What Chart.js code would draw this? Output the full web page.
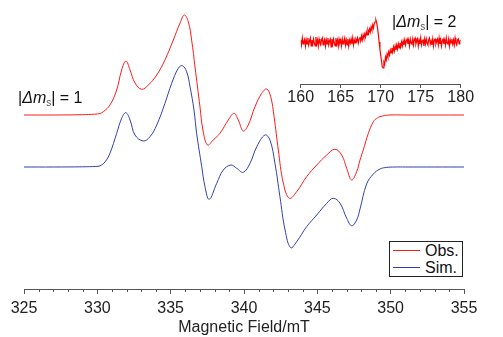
<!DOCTYPE html>
<html>
<head>
<meta charset="utf-8">
<script src="https://cdn.jsdelivr.net/npm/chart.js@4/dist/chart.umd.min.js"></script>
<style>
    body { margin: 0; background: #fff; }
    #contenedor { position: relative; width: 503px; height: 337px; font-family: "Liberation Sans", Arial, sans-serif; }
    canvas { position: absolute; top: 0; }
    #principal { left: 0; }
    #recuadro { left: 280px; }
    .etiqueta { position: absolute; font-size: 16px; line-height: 16px; color: #111; white-space: nowrap; }
    .etiqueta i { font-style: italic; }
    .etiqueta sub { font-size: 10px; line-height: 0; vertical-align: -3px; color: #555; }
    #leyenda { position: absolute; left: 389px; top: 241px; width: 72px; height: 34px; border: 1px solid #222; background: #fff; font-size: 16px; color: #111; }
    #leyenda div { position: absolute; left: 0; height: 17px; line-height: 17px; }
    #leyenda span.linea { position: absolute; left: 3px; top: 8px; width: 27px; height: 1px; }
    #leyenda span.texto { position: absolute; left: 35px; top: 0; }
</style>
</head>
<body>
<div id="contenedor">
    <canvas id="principal" width="503" height="337"></canvas>
    <canvas id="recuadro" width="223" height="120"></canvas>
    <div class="etiqueta" style="left:18px; top:90px;">|<i>Δm</i><sub>s</sub>| = 1</div>
    <div class="etiqueta" style="left:392px; top:14px;">|<i>Δm</i><sub>s</sub>| = 2</div>
    <div id="leyenda">
        <div style="top:0;"><span class="linea" style="background:#ff1a1a;"></span><span class="texto">Obs.</span></div>
        <div style="top:17px;"><span class="linea" style="background:#3040b0;"></span><span class="texto">Sim.</span></div>
    </div>
</div>
<script>
// Espectro |Δms| = 1 (campo en mT, intensidad relativa a la línea base)
const campoObs = [325, 327, 329, 329.8, 330.18, 330.41, 330.86, 331.32, 331.66, 331.95,
    332.23, 332.57, 333.02, 333.48, 334.05, 334.61, 335.18, 335.64, 335.93, 336.2,
    336.43, 336.66, 337.0, 337.2, 337.51, 337.9, 338.36, 338.93, 339.32, 339.61,
    339.95, 340.29, 340.75, 341.21, 341.55, 341.82, 342.05, 342.34, 342.68, 343.09,
    343.59, 344.27, 344.96, 345.64, 346.2, 346.66, 347.0, 347.34, 347.68, 347.91,
    348.13, 348.48, 348.82, 349.1, 349.45, 349.95, 351, 353, 355];
const obs = [0, 0, 0.3, 0.8, 1.5, 3.3, 10, 25, 45, 54,
    45, 32, 25.7, 30, 40, 55, 75, 92, 100, 93.3,
    75, 48, 8, -15, -30, -25, -18.3, -5, 1.7, -5,
    -16, -10, 8.3, 21.7, 26, 18.3, -1.7, -35, -68, -83.3,
    -76.7, -61.7, -50, -40, -34.3, -40, -53.3, -65, -56.7, -45,
    -35, -18.3, -6.7, -2.8, -1, 0, 0, 0, 0];

const campoSim = [325, 327, 329, 329.9, 330.18, 330.52, 330.86, 331.32, 331.66, 331.95,
    332.23, 332.57, 333.13, 333.59, 334.05, 334.61, 335.07, 335.52, 335.79, 336.09,
    336.32, 336.59, 336.77, 337.12, 337.34, 337.63, 338.14, 338.59, 339.11, 339.5,
    339.95, 340.41, 340.87, 341.43, 341.77, 342.11, 342.45, 342.8, 343.18, 343.59,
    344.27, 344.96, 345.64, 346.09, 346.55, 347.0, 347.34, 347.68, 347.91, 348.36,
    348.82, 349.27, 349.73, 350.3, 351, 353, 355];
const sim = [0, 0, 0.2, 0.6, 1.2, 5, 13.7, 33.7, 48.7, 54.3,
    47, 32, 26, 30.3, 42, 63.7, 83.7, 98.7, 101.3, 95.3,
    80.3, 57, 33.7, 0.3, -19.7, -32.3, -16.3, -3, 2, -1.3,
    -5.3, 3.7, 20.3, 32, 27, 3.7, -29.7, -63, -80.7, -74.7,
    -59.7, -48, -36.3, -31.3, -36.3, -51.3, -58.7, -53, -42, -17,
    -7, -2, -0.4, 0, 0, 0, 0];

// Espectro |Δms| = 2, de 160 a 180 mT cada 0.1 mT
const insetInicio = 160;
const insetPaso = 0.1;
const obsInset = [
    2, -3, 4, -2, 1, 3, -4, 2, -2, 4,
    -3, 1, 4, -4, 2, -2, 3, -1, -4, 5,
    -2, 2, -4, 3, -1, -3, 2, 4, -3, 1,
    3, -4, 2, -2, 4, -3, 1, 3, -5, 3,
    -2, 3, -1, -4, 4, -2, 2, -4, 3, -1,
    2, -4, 3, -2, 1, 4, -3, 2, -3, 3,
    -4, 2, -1, 3, -2, 4, -3, 2, -1, 3,
    1, 4, -1, 3, 5, 1, 6, 2, 7, 4,
    8, 5, 10, 7, 12, 9, 13, 10, 15, 12,
    17, 14, 19, 20, 22, 19, 14, 8, 0, -7,
    -13, -19, -25, -26, -20, -22, -15, -18, -12, -15,
    -10, -13, -8, -11, -6, -10, -5, -9, -4, -8,
    -3, -7, -2, -6, -1, -5, 0, -4, 1, -3,
    2, -3, 1, 3, -2, 2, -4, 3, -1, -2,
    3, -3, 2, 4, -2, 1, 3, -4, 2, -2,
    4, -3, 1, 2, -4, 3, -2, 3, -1, -3,
    2, 4, -2, 1, -3, 3, -4, 2, 3, -2,
    1, 3, -3, 4, -2, 2, -4, 1, 3, -2,
    2, -3, 4, -1, -2, 3, -4, 2, -1, 3,
    -2, 2, -3, 4, -1, -3, 2, 3, -2, 1,
    2];

const ticksPrincipal = [325, 330, 335, 340, 345, 350, 355];
const ticksInset = [160, 165, 170, 175, 180];

// desplazamiento vertical de cada traza
const baseObs = 174;
const baseSim = 122;

function puntos(xs, ys, base) {
    let res = [];
    for (let i = 0; i < xs.length; i++) {
        res.push({ x: xs[i], y: ys[i] + base });
    }
    return res;
}

const colorEje = '#555555';
const fuente = { family: "'Liberation Sans', Arial, sans-serif", size: 16 };

// ticks menores cada 1 mT
const ticksMenores = {
    id: 'ticksMenores',
    afterDraw(chart) {
        const escala = chart.scales.x;
        const ctx = chart.ctx;
        const y = chart.chartArea.bottom;
        ctx.save();
        ctx.strokeStyle = colorEje;
        ctx.lineWidth = 1;
        for (let v = escala.min; v <= escala.max; v++) {
            if (v % 5 === 0) continue;
            const x = Math.round(escala.getPixelForValue(v)) + 0.5;
            ctx.beginPath();
            ctx.moveTo(x, y);
            ctx.lineTo(x, y + 3);
            ctx.stroke();
        }
        ctx.restore();
    }
};

new Chart(document.getElementById('principal'), {
    type: 'line',
    data: {
        datasets: [{
            label: 'Obs.',
            data: puntos(campoObs, obs, baseObs),
            borderColor: '#ff1a1a',
            borderWidth: 1,
            pointRadius: 0,
            tension: 0.4
        }, {
            label: 'Sim.',
            data: puntos(campoSim, sim, baseSim),
            borderColor: '#3040b0',
            borderWidth: 1,
            pointRadius: 0,
            tension: 0.4
        }]
    },
    options: {
        responsive: false,
        animation: false,
        layout: { padding: { left: 24, right: 39, top: 0, bottom: 0 } },
        plugins: { legend: { display: false }, tooltip: { enabled: false } },
        scales: {
            x: {
                type: 'linear',
                min: 325,
                max: 355,
                afterBuildTicks(escala) {
                    escala.ticks = ticksPrincipal.map(v => ({ value: v }));
                },
                afterFit(escala) { escala.height = 48; },
                grid: { drawOnChartArea: false, color: colorEje, tickLength: 5 },
                border: { color: colorEje },
                ticks: { color: '#222', font: fuente, padding: 5, maxRotation: 0 },
                title: { display: true, text: 'Magnetic Field/mT', color: '#222', font: fuente, padding: { top: 0, bottom: 0 } }
            },
            y: { display: false, min: 0, max: 289 }
        }
    },
    plugins: [ticksMenores]
});

let datosInset = [];
for (let i = 0; i < obsInset.length; i++) {
    datosInset.push({ x: insetInicio + i * insetPaso, y: obsInset[i] });
}

new Chart(document.getElementById('recuadro'), {
    type: 'line',
    data: {
        datasets: [{
            label: 'Obs.',
            data: datosInset,
            borderColor: '#ff0000',
            borderWidth: 1.2,
            pointRadius: 0,
            tension: 0
        }]
    },
    options: {
        responsive: false,
        animation: false,
        layout: { padding: { left: 20.7, right: 42.3, top: 0, bottom: 0 } },
        plugins: { legend: { display: false }, tooltip: { enabled: false } },
        scales: {
            x: {
                type: 'linear',
                min: 160,
                max: 180,
                afterBuildTicks(escala) {
                    escala.ticks = ticksInset.map(v => ({ value: v }));
                },
                afterFit(escala) { escala.height = 36; },
                grid: { drawOnChartArea: false, color: colorEje, tickLength: 4 },
                border: { color: colorEje },
                ticks: { color: '#222', font: fuente, padding: 0, maxRotation: 0 }
            },
            y: { display: false, min: -42, max: 42 }
        }
    }
});
</script>
</body>
</html>
